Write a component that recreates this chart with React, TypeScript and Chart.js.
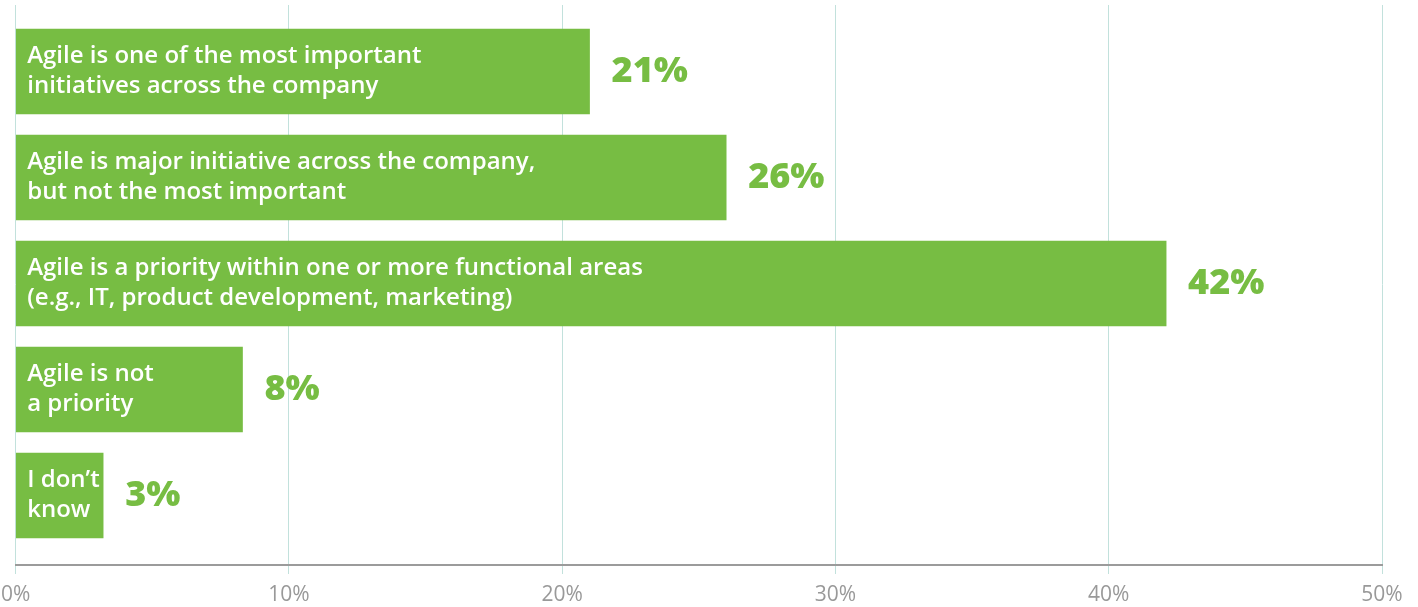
import React, { useEffect, useRef } from "react";
import { Chart, registerables } from "chart.js";

Chart.register(...registerables);

const categories: string[][] = [
  ["Agile is one of the most important", "initiatives across the company"],
  ["Agile is major initiative across the company,", "but not the most important"],
  ["Agile is a priority within one or more functional areas", "(e.g., IT, product development, marketing)"],
  ["Agile is not", "a priority"],
  ["I don’t", "know"],
];
const values: number[] = [21, 26, 42.1, 8.3, 3.2];
const valueLabels: string[] = ["21%", "26%", "42%", "8%", "3%"];
const xTickValues: number[] = [0, 10, 20, 30, 40, 50];

const GREEN = "#77bd43";
const GRID = "#c2e1dc";
const AXIS = "#9b9b9b";
const TICK_TEXT = "#999999";
const FONT = "'Open Sans', 'Noto Sans', sans-serif";

const barLabels = {
  id: "barLabels",
  afterDatasetsDraw(chart: any) {
    const ctx = chart.ctx;
    const meta = chart.getDatasetMeta(0);
    meta.data.forEach((bar: any, i: number) => {
      const { x, y, base } = bar.getProps(["x", "y", "base"], true);
      ctx.save();
      ctx.textBaseline = "middle";
      ctx.textAlign = "left";
      ctx.fillStyle = "#ffffff";
      ctx.font = `600 24px ${FONT}`;
      const lines = categories[i];
      const lh = 30;
      lines.forEach((l, j) => {
        ctx.fillText(l, base + 11, y + (j - (lines.length - 1) / 2) * lh);
      });
      ctx.fillStyle = GREEN;
      ctx.font = `800 36px ${FONT}`;
      ctx.fillText(valueLabels[i], x + 22, y);
      ctx.restore();
    });
  },
};

export default function App() {
  const canvasRef = useRef<HTMLCanvasElement | null>(null);

  useEffect(() => {
    document.body.style.margin = "0";
    const canvas = canvasRef.current;
    if (!canvas) return;
    const chart = new Chart(canvas, {
      type: "bar",
      data: {
        datasets: [
          {
            data: values.map((v, i) => ({ x: v, y: i })),
            backgroundColor: GREEN,
            borderWidth: 0,
            barThickness: 85,
          },
        ],
      },
      plugins: [barLabels],
      options: {
        indexAxis: "y",
        animation: false,
        responsive: true,
        maintainAspectRatio: false,
        layout: { padding: { top: 5, right: 0, bottom: 0, left: 0 } },
        plugins: {
          legend: { display: false },
          tooltip: { enabled: false },
        },
        scales: {
          y: {
            type: "linear",
            reverse: true,
            offset: false,
            min: -0.627,
            max: 4.656,
            display: false,
            grid: { offset: false },
          },
          x: {
            type: "linear",
            min: 0,
            max: 50,
            afterBuildTicks: (scale: any) => {
              scale.ticks = xTickValues.map((v) => ({ value: v }));
            },
            afterFit: (scale: any) => {
              scale.paddingLeft = 15.7;
              scale.paddingRight = 36;
              scale.height = 42;
            },
            grid: {
              color: GRID,
              lineWidth: 1,
              tickLength: 9,
              drawTicks: true,
            },
            border: { color: AXIS, width: 2 },
            ticks: {
              color: TICK_TEXT,
              padding: 8,
              maxRotation: 0,
              font: { family: FONT, size: 21, weight: "normal" },
              callback: (v: any) => `${v}%`,
            },
          },
        },
      },
    });
    let alive = true;
    if ((document as any).fonts) {
      (document as any).fonts.load(`800 36px 'Open Sans'`).then(() => {
        if (alive) chart.update();
      });
      (document as any).fonts.load(`600 24px 'Open Sans'`).then(() => {
        if (alive) chart.update();
      });
      (document as any).fonts.load(`21px 'Open Sans'`).then(() => {
        if (alive) chart.update();
      });
    }
    return () => {
      alive = false;
      chart.destroy();
    };
  }, []);

  return (
    <div style={{ width: 1418, height: 607, position: "relative" }}>
      <canvas ref={canvasRef} />
    </div>
  );
}
